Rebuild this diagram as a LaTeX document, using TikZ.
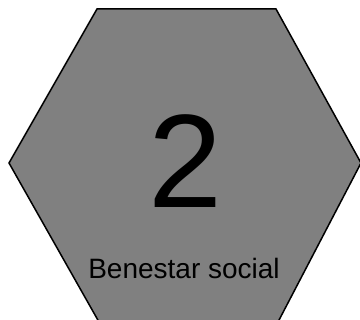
\documentclass[tikz,border=0pt]{standalone}
\usepackage{fontspec}
\setmainfont{Liberation Sans}
\usetikzlibrary{calc}

\begin{document}
\begin{tikzpicture}[x=1pt, y=-1pt, line width=1.5pt]
  \useasboundingbox (0,0) rectangle (360,320);
  \clip (0,0) rectangle (360,320);
  % hexagono
  \draw[fill=gray, line join=miter] (97,9) -- (276,9) -- (361,163) -- (278,322)
    -- (99,322) -- (9,163) -- cycle;
  % numero y texto
  \node[font=\fontsize{133}{133}\selectfont, inner sep=0pt, anchor=base] (num) at (185,208) {2};
  \node[font=\fontsize{28}{28}\selectfont, inner sep=0pt, anchor=base] (lbl) at (184,279) {Benestar social};
\end{tikzpicture}
\end{document}
